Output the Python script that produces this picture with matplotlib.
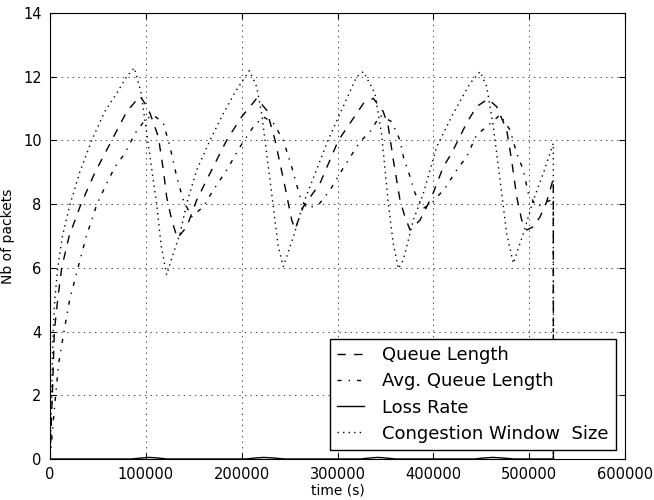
import matplotlib as mpl
import matplotlib.pyplot as plt
import numpy as np

# values (time in s, y in packets)
t_cwnd = [0, 1000, 2000, 3000, 5000, 8000, 13000, 21000, 31000, 43500, 57000, 70000, 80000, 88000,
          95000, 102000, 111300, 116000, 121700, 128700, 135700, 142700, 153100, 167000, 180900, 193400,
          208000, 215600, 220800, 226100, 233000, 238200, 243500, 254000, 264000, 271300, 290000, 305000,
          320000, 327000, 339000, 346000, 353000, 358000, 363500, 368700, 379100, 389600, 403500, 420800,
          438300, 448700, 455700, 462600, 469600, 476500, 483500, 493900, 504400, 514800, 525200, 525300]
cwnd = [0.0, 1.0, 2.5, 3.8, 5.0, 6.0, 7.0, 8.0, 9.0, 10.0, 10.9, 11.5, 12.0, 12.28,
        11.5, 10.0, 8.0, 6.7, 5.78, 6.46, 7.08, 8.03, 9.07, 10.01, 10.85, 11.53,
        12.19, 11.69, 10.85, 9.6, 7.92, 6.66, 6.04, 6.98, 8.0, 8.55, 10.0, 11.0,
        12.0, 12.16, 11.48, 10.2, 8.03, 6.8, 5.97, 6.25, 7.5, 8.34, 9.8, 10.85,
        11.79, 12.16, 11.69, 10.43, 8.76, 7.08, 6.14, 7.08, 8.13, 8.97, 9.91, 0.0]

t_queue = [0, 1200, 2400, 3500, 4500, 8000, 12200, 20000, 32300, 47000, 64400, 80000, 93900, 99100,
           104400, 113000, 118300, 121700, 127000, 132900, 142700, 153100, 167000, 184400, 200000,
           215700, 226100, 234800, 245200, 252200, 255700, 264300, 281700, 300900, 327000, 337400,
           347800, 353000, 358300, 365200, 370400, 375700, 386100, 398300, 410400, 419100, 434700,
           445100, 457000, 466100, 476500, 481700, 487000, 492200, 497400, 504400, 511300, 518300,
           525200, 525300]
queue = [0.0, 1.0, 2.0, 3.0, 4.0, 5.0, 6.0, 7.0, 8.0, 9.0, 10.0, 10.9, 11.39, 11.16,
         10.85, 10.12, 9.07, 8.23, 7.5, 6.93, 7.29, 8.13, 8.97, 10.01, 10.74,
         11.32, 10.95, 10.01, 8.55, 7.5, 7.21, 7.92, 8.65, 10.0, 11.16, 11.32,
         10.9, 10.43, 9.38, 8.13, 7.6, 7.19, 7.5, 8.23, 9.17, 9.6, 10.54,
         11.06, 11.3, 11.06, 10.33, 9.38, 8.23, 7.5, 7.19, 7.29, 7.6, 8.08,
         8.8, 0.0]

t_avg = [0, 1500, 3500, 5900, 9000, 14600, 20500, 29200, 38000, 49000, 59100, 67800, 78300, 88700,
         99100, 107800, 118300, 125200, 132200, 139100, 147800, 160000, 170400, 184400, 198300, 212200,
         222600, 233000, 243500, 252200, 260900, 267900, 280000, 292200, 302600, 323500, 334000, 344500,
         356500, 365200, 368700, 375700, 380900, 389600, 398300, 412200, 424400, 434800, 445100, 455500,
         469600, 480000, 487000, 493900, 499100, 504400, 508000, 518300, 525200, 525300]
avg_queue = [0.0, 0.5, 1.2, 2.0, 3.0, 4.0, 5.0, 6.0, 7.0, 8.0, 8.65, 9.17, 9.6, 10.22,
             10.64, 10.8, 10.54, 9.8, 8.86, 8.13, 7.6, 7.92, 8.44, 9.07, 9.8, 10.43,
             10.74, 10.55, 10.0, 9.17, 8.23, 7.87, 7.97, 8.44, 8.97, 9.96, 10.27, 10.78,
             10.59, 10.01, 9.49, 8.86, 8.34, 7.87, 8.03, 8.5, 9.07, 9.49, 10.17, 10.43,
             10.8, 10.33, 9.6, 9.07, 8.34, 8.08, 7.92, 8.08, 8.15, 0.0]

t_loss = [0, 85000, 95000, 104000, 113000, 122000, 204000, 214000, 223000, 234000, 245000,
          324000, 333000, 342000, 351000, 361000, 443000, 452000, 462000, 473000, 484000, 525200]
loss = [0, 0, 0.03, 0.05, 0.03, 0, 0, 0.03, 0.05, 0.03, 0,
        0, 0.03, 0.05, 0.03, 0, 0, 0.03, 0.05, 0.03, 0, 0]

mpl.rcParams['lines.dashed_pattern'] = [6, 6]
mpl.rcParams['lines.dashdot_pattern'] = [3, 5, 1, 5]
mpl.rcParams['lines.dotted_pattern'] = [1, 3]
mpl.rcParams['lines.scale_dashes'] = False
mpl.rcParams['xtick.direction'] = 'in'
mpl.rcParams['ytick.direction'] = 'in'
mpl.rcParams['xtick.top'] = True
mpl.rcParams['ytick.right'] = True
mpl.rcParams['xtick.major.size'] = 4
mpl.rcParams['ytick.major.size'] = 4
mpl.rcParams['xtick.major.pad'] = 6
mpl.rcParams['ytick.major.pad'] = 6

fig = plt.figure(figsize=(6.54, 5.0), dpi=100, facecolor='w')
ax = fig.add_axes([50/654, 1 - 459/500, 575/654, 446/500])

ax.plot(t_queue, queue, 'k--', lw=1, label='Queue Length')
ax.plot(t_avg, avg_queue, 'k-.', lw=1, label='Avg. Queue Length')
ax.plot(t_loss, loss, 'k-', lw=1, label='Loss Rate')
ax.plot(t_cwnd, cwnd, 'k:', lw=1, label='Congestion Window  Size')

ax.set_xlim(0, 600000)
ax.set_ylim(0, 14)
ax.set_xticks(np.arange(0, 600001, 100000))
ax.set_yticks(np.arange(0, 15, 2))
ax.tick_params(labelsize=10.5)
ax.grid(True, color='k', linestyle=':', linewidth=0.5)
ax.set_xlabel('time (s)', fontsize=10, labelpad=1)
ax.set_ylabel('Nb of packets', fontsize=10, labelpad=6)

leg = ax.legend(loc='lower right', fontsize=13, fancybox=False, handlelength=1.5,
                handletextpad=1.0, labelspacing=0.45, borderaxespad=0.5, framealpha=1)
leg.get_frame().set_edgecolor('k')

fig.savefig('out.png', dpi=100, facecolor='w')
